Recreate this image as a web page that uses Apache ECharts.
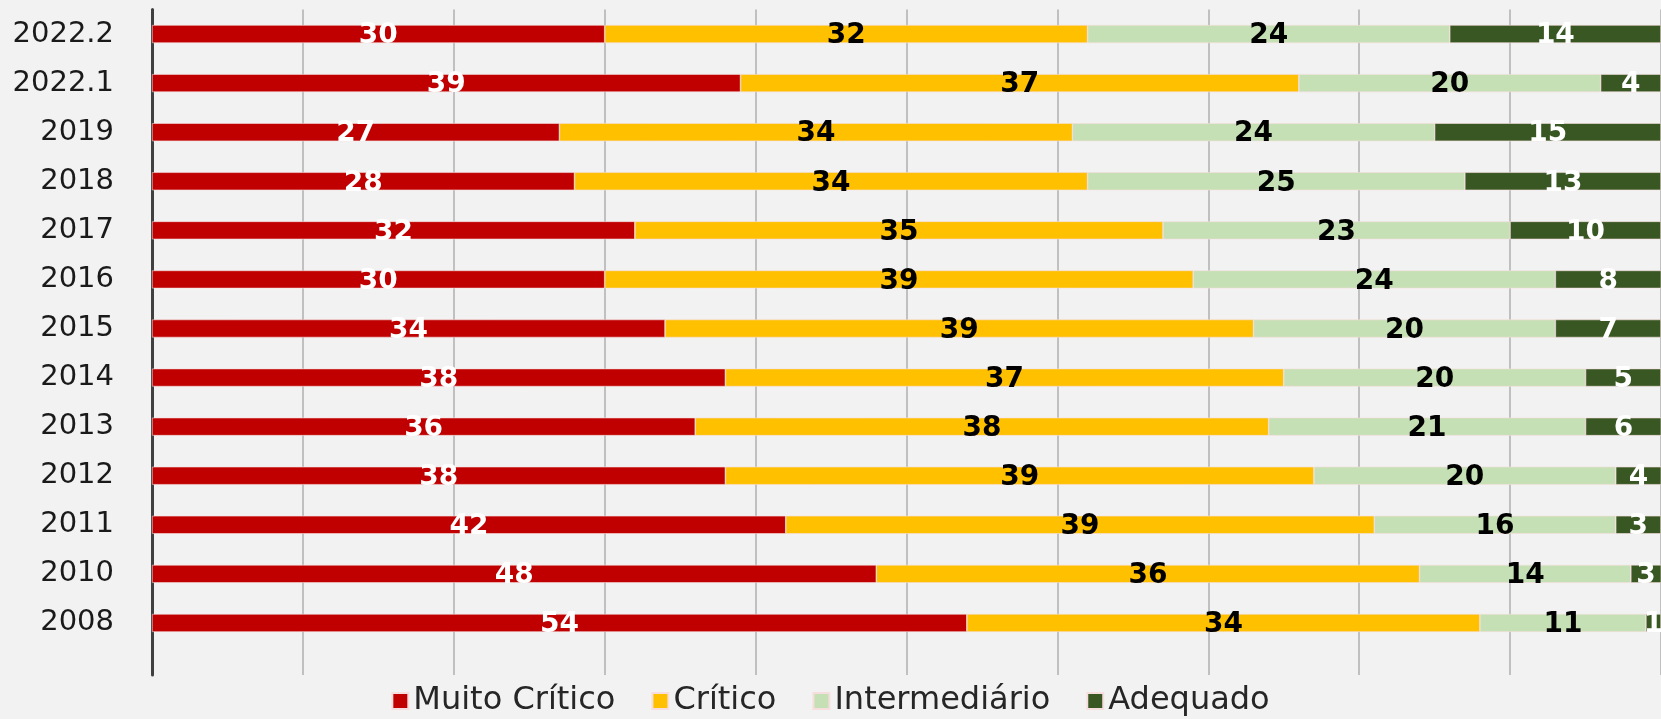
<!DOCTYPE html>
<html>
<head>
<meta charset="utf-8">
<script src="https://cdn.jsdelivr.net/npm/echarts@6/dist/echarts.min.js"></script>
<style>
html,body{margin:0;padding:0;background:#f2f2f2;}
#chart{width:1661px;height:719px;}
</style>
</head>
<body>
<div id="chart"></div>
<script>
const categories = ['2008','2010','2011','2012','2013','2014','2015','2016','2017','2018','2019','2022.1','2022.2'];
const muitoCritico = [54,48,42,38,36,38,34,30,32,28,27,39,30];
const critico      = [34,36,39,39,38,37,39,39,35,34,34,37,32];
const intermediario= [11,14,16,20,21,20,20,24,23,25,24,20,24];
const adequado     = [1,3,3,4,6,5,7,8,10,13,15,4,14];
const seriesNames = ['Muito Crítico','Crítico','Intermediário','Adequado'];
const seriesColors = ['#c00000','#ffc000','#c5e0b4','#385723'];
const labelColors = ['#ffffff','#000000','#000000','#ffffff'];
const seriesData = [muitoCritico, critico, intermediario, adequado];

const chart = echarts.init(document.getElementById('chart'));
chart.setOption({
  backgroundColor:'#f2f2f2',
  animation:false,
  grid:[
    {left:152,right:-4,top:9.5,bottom:71.5,containLabel:false},
    {left:152,right:-4,top:9.5,bottom:44,containLabel:false}
  ],
  legend:{
    data:seriesNames,
    top:679,
    left:'center',
    itemWidth:16,itemHeight:16,itemGap:36,
    icon:'rect',
    textStyle:{fontFamily:'DejaVu Sans',fontSize:32,lineHeight:34,color:'#262626',padding:[0,0,0,0]}
  },
  xAxis:[
    {gridIndex:0,type:'value',min:0,max:100,interval:10,
      axisLabel:{show:false},axisLine:{show:false},axisTick:{show:false},splitLine:{show:false}},
    {gridIndex:1,type:'value',min:0,max:100,interval:10,
      axisLabel:{show:false},axisLine:{show:false},axisTick:{show:false},
      splitLine:{show:true,lineStyle:{color:'#c0c0c0',width:2}}}
  ],
  yAxis:[
    {gridIndex:0,type:'category',data:categories,
      axisLine:{show:false},axisTick:{show:false},
      axisLabel:{fontFamily:'DejaVu Sans',fontSize:29,color:'#1a1a1a',margin:38}},
    {gridIndex:1,type:'value',min:0,max:1,
      axisLine:{show:true,lineStyle:{color:'#404040',width:3}},
      axisTick:{show:false},axisLabel:{show:false},splitLine:{show:false}}
  ],
  series: seriesNames.map((n,i)=>({
    name:n,type:'bar',stack:'total',barWidth:18,
    xAxisIndex:0,yAxisIndex:0,
    data:seriesData[i],
    itemStyle:{color:seriesColors[i],borderColor:'#f7dede',borderWidth:0.6},
    label:{show:true,position:'inside',offset:[0,2],
      fontFamily:'DejaVu Sans',fontWeight:'bold',fontSize:28,color:labelColors[i]}
  }))
});
</script>
</body>
</html>
